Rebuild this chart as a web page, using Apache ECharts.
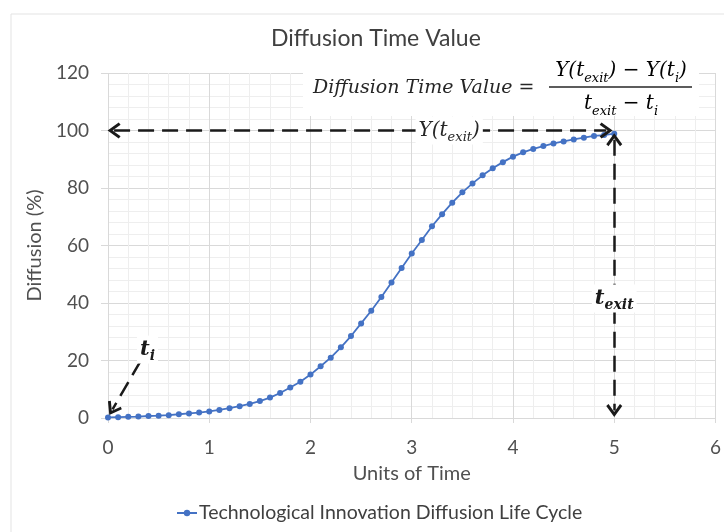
<!DOCTYPE html>
<html>
<head>
<meta charset="utf-8">
<script src="https://cdn.jsdelivr.net/npm/echarts@6/dist/echarts.min.js"></script>
<style>
  html, body { margin: 0; padding: 0; background: #fff; }
  #main { width: 724px; height: 532px; }
</style>
</head>
<body>
<div id="main"></div>
<script>
// time steps (x) and diffusion in % (y)
const times = [0, 0.1, 0.2, 0.3, 0.4, 0.5, 0.6, 0.7, 0.8, 0.9,
  1.0, 1.1, 1.2, 1.3, 1.4, 1.5, 1.6, 1.7, 1.8, 1.9,
  2.0, 2.1, 2.2, 2.3, 2.4, 2.5, 2.6, 2.7, 2.8, 2.9,
  3.0, 3.1, 3.2, 3.3, 3.4, 3.5, 3.6, 3.7, 3.8, 3.9,
  4.0, 4.1, 4.2, 4.3, 4.4, 4.5, 4.6, 4.7, 4.8, 4.9, 5.0]
const diffusion = [0.2, 0.3, 0.4, 0.5, 0.7, 0.8, 1.0, 1.3, 1.6, 1.9,
  2.3, 2.8, 3.4, 4.1, 4.9, 5.9, 7.1, 8.7, 10.6, 12.6,
  15.1, 18.0, 21.0, 24.6, 28.5, 32.9, 37.3, 42.1, 47.1, 52.2,
  57.2, 61.9, 66.7, 70.9, 74.9, 78.5, 81.6, 84.4, 86.9, 89.0,
  90.9, 92.4, 93.6, 94.6, 95.5, 96.2, 96.9, 97.5, 98.1, 98.4, 98.9]
const xTicks = [0, 6, 1]   // min, max, step
const yTicks = [0, 120, 20]
const seriesName = 'Technological Innovation Diffusion Life Cycle'

const chart = echarts.init(document.getElementById('main'))

const font = 'Lato, "Open Sans", sans-serif'
const mathFont = '"DejaVu Serif", serif'
const axisGrey = '#505050'
// open chevron arrow head, tip at the top
const chevron = 'path://M50,0 L100,72 L86,84 L50,32 L14,84 L0,72 Z'

const mathRich = {
  m: { fontFamily: mathFont, fontStyle: 'italic', fontSize: 20, color: '#262626', lineHeight: 28 },
  s: { fontFamily: mathFont, fontStyle: 'italic', fontSize: 13, color: '#262626', lineHeight: 14, verticalAlign: 'bottom' },
  b: { fontFamily: mathFont, fontStyle: 'italic', fontWeight: 'bold', fontSize: 21, color: '#1a1a1a', lineHeight: 28 },
  bs: { fontFamily: mathFont, fontStyle: 'italic', fontWeight: 'bold', fontSize: 14, color: '#1a1a1a', lineHeight: 14, verticalAlign: 'bottom' }
}

const tagLabel = {
  show: true,
  position: 'inside',
  backgroundColor: '#fff',
  padding: [0, 3],
  rich: mathRich
}

chart.setOption({
  animation: false,
  title: {
    text: 'Diffusion Time Value',
    left: 271,
    top: 27,
    padding: 0,
    textStyle: { fontFamily: font, fontSize: 23, fontWeight: 'normal', color: '#404040' }
  },
  legend: {
    data: [seriesName],
    left: 171,
    bottom: 4,
    itemWidth: 20,
    itemHeight: 8,
    textStyle: { fontFamily: font, fontSize: 19.5, color: '#404040', padding: [0, 0, 0, -3] }
  },
  grid: { left: 108, right: 3, top: 73, bottom: 114 },
  xAxis: {
    type: 'value',
    min: xTicks[0], max: xTicks[1], interval: xTicks[2],
    name: 'Units of Time',
    nameLocation: 'middle',
    nameGap: 46,
    nameTextStyle: { fontFamily: font, fontSize: 20, color: axisGrey },
    axisLine: { show: true, lineStyle: { color: '#d9d9d9', width: 1 } },
    axisTick: { show: true, length: 5, lineStyle: { color: '#d9d9d9' } },
    axisLabel: { fontFamily: font, fontSize: 19, color: axisGrey, margin: 20 },
    splitLine: { show: true, lineStyle: { color: '#d9d9d9' } },
    minorTick: { show: false, splitNumber: 5 },
    minorSplitLine: { show: true, lineStyle: { color: '#eeeeee' } }
  },
  yAxis: {
    type: 'value',
    min: yTicks[0], max: yTicks[1], interval: yTicks[2],
    name: 'Diffusion (%)',
    nameLocation: 'middle',
    nameGap: 54,
    nameTextStyle: { fontFamily: font, fontSize: 20, color: axisGrey },
    axisLine: { show: false },
    axisTick: { show: true, length: 7, lineStyle: { color: '#d9d9d9' } },
    axisLabel: { fontFamily: font, fontSize: 19, color: axisGrey, margin: 19 },
    splitLine: { show: true, lineStyle: { color: '#d9d9d9' } },
    minorTick: { show: false, splitNumber: 5 },
    minorSplitLine: { show: true, lineStyle: { color: '#eeeeee' } }
  },
  graphic: [
    { type: 'rect', z: -10, silent: true,
      shape: { x: 11, y: 14, width: 760, height: 560 },
      style: { fill: 'none', stroke: '#e3e3e3', lineWidth: 1 } },
    // formula box
    { type: 'rect', z: 50, silent: true,
      shape: { x: 303, y: 50, width: 396, height: 66 },
      style: { fill: '#fff' } },
    { type: 'text', z: 51, silent: true, x: 313, y: 88,
      style: { text: 'Diffusion Time Value =', fontFamily: mathFont, fontStyle: 'italic', fontSize: 19,
        fill: '#262626', verticalAlign: 'middle' } },
    { type: 'text', z: 51, silent: true, x: 621, y: 71,
      style: { text: '{m|Y(t}{s|exit}{m|) − Y(t}{s|i}{m|)}', rich: mathRich, align: 'center', verticalAlign: 'middle' } },
    { type: 'line', z: 51, silent: true,
      shape: { x1: 549, y1: 87, x2: 692, y2: 87 },
      style: { stroke: '#262626', lineWidth: 1.5 } },
    { type: 'text', z: 51, silent: true, x: 621, y: 104,
      style: { text: '{m|t}{s|exit}{m| − t}{s|i}', rich: mathRich, align: 'center', verticalAlign: 'middle' } }
  ],
  series: [{
    name: seriesName,
    type: 'line',
    data: times.map((t, i) => [t, diffusion[i]]),
    symbol: 'circle',
    symbolSize: 6,
    lineStyle: { color: '#4472c4', width: 1.8 },
    itemStyle: { color: '#4472c4' },
    markLine: {
      silent: true,
      symbol: [chevron, chevron],
      symbolSize: [16, 13],
      label: { show: false },
      lineStyle: { color: '#1a1a1a', width: 2.5, type: [16, 8] },
      data: [
        [{ coord: [0.06, 100] }, { coord: [4.92, 100] }],
        [{ coord: [5, 96.8] }, { coord: [5, 2.6] }],
        [{ coord: [0.32, 19.7], symbol: 'none' }, { coord: [0.045, 3.0] }]
      ]
    },
    markPoint: {
      silent: true,
      symbol: 'circle',
      symbolSize: 1,
      itemStyle: { color: 'rgba(0,0,0,0)' },
      label: tagLabel,
      data: [
        { coord: [3.37, 100], label: { formatter: '{m|Y(t}{s|exit}{m|)}' } },
        { coord: [5, 41.6], label: { formatter: '{b|t}{bs|exit}' } },
        { coord: [0.39, 23.8], label: { formatter: '{b|t}{bs|i}' } }
      ]
    }
  }]
})
</script>
</body>
</html>
